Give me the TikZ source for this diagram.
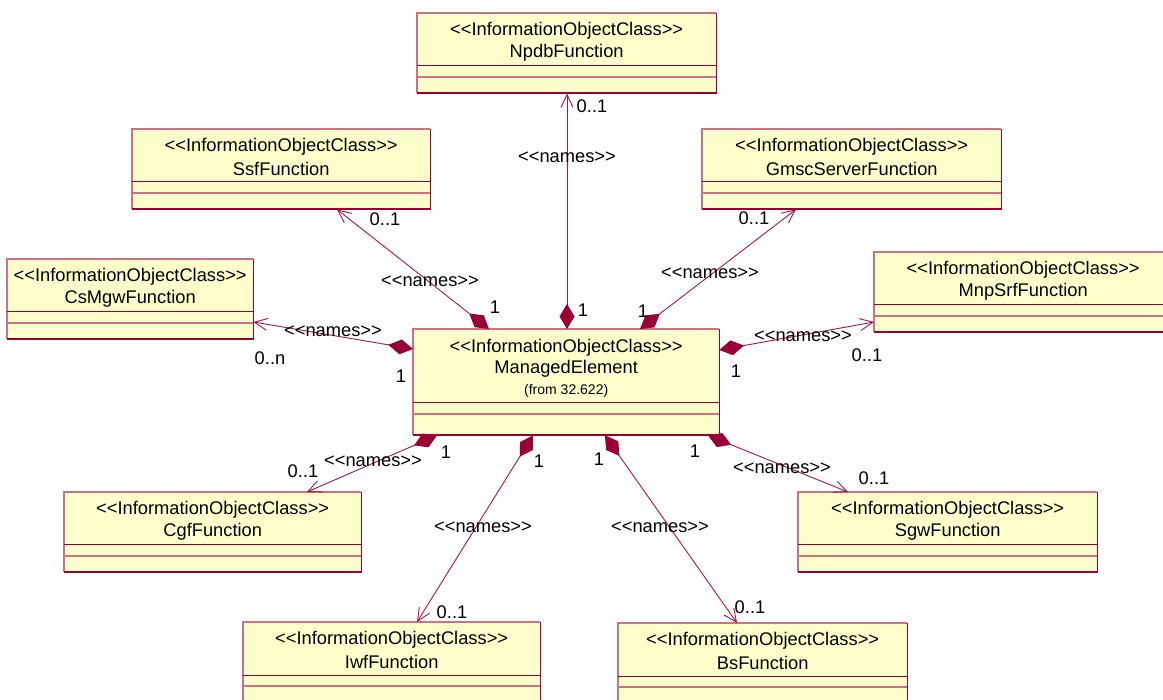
\documentclass[tikz,border=0pt]{standalone}
\usepackage{fontspec}
\newfontfamily\uml{Liberation Sans}
\usetikzlibrary{arrows.meta,calc}
\definecolor{boxfill}{RGB}{255,255,204}
\definecolor{dk}{RGB}{153,0,51}
\definecolor{lt}{RGB}{208,112,135}
\definecolor{ln}{RGB}{170,20,72}
\tikzset{
  clsbox/.style={fill=boxfill, draw=none, inner sep=0pt, anchor=north west, minimum height=80pt},
  lb/.style={draw=lt, line width=1.4pt},
  db/.style={draw=dk, line width=1.8pt},
  sepa/.style={draw=dk, line width=1pt},
  sepb/.style={draw=lt, line width=1.6pt},
  assoc/.style={draw=ln, line width=0.9pt, {Diamond[length=25pt,width=15pt,fill=dk,color=dk]}-{Straight Barb[length=13pt,width=12pt]}},
  txt/.style={inner sep=0pt, text=black},
  lbl/.style={inner sep=0pt, text=black},
}
\newcommand\umlclass[5]{%
  \node[clsbox, minimum width={#4-#2}] (#1) at (#2,#3) {};
  \node[txt] (#1-st) at ($(#1.north)+(0,18)$) {<<InformationObjectClass>>};
  \node[txt] (#1-nm) at ($(#1.north)+(0,40)$) {#5};
  \draw[lb] (#1.south west) -- (#1.north west) -- (#1.north east);
  \draw[db] (#1.north east) -- (#1.south east) -- (#1.south west);
  \draw[sepa] ($(#1.north west)+(0,53)$) -- ($(#1.north east)+(0,53)$);
  \draw[sepb] ($(#1.north west)+(0,64)$) -- ($(#1.north east)+(0,64)$);
}
\begin{document}
\begin{tikzpicture}[x=1pt,y=-1pt,font=\uml\fontsize{18.3}{21}\selectfont]
\fill[white] (0,0) rectangle (1163,700);
\useasboundingbox (0,0) rectangle (1163,700);

\umlclass{npdb}{417}{13}{716}{NpdbFunction}
\umlclass{ssf}{132}{129}{430}{SsfFunction}
\umlclass{gmsc}{702}{129}{1001}{GmscServerFunction}
\umlclass{csmgw}{7}{259}{253}{CsMgwFunction}
\umlclass{mnp}{874}{252}{1172}{MnpSrfFunction}
\umlclass{cgf}{64}{492}{361}{CgfFunction}
\umlclass{sgw}{798}{492}{1097}{SgwFunction}
\umlclass{iwf}{243}{622}{540}{IwfFunction}
\umlclass{bs}{618}{623}{907}{BsFunction}

% ManagedElement
\node[clsbox, minimum width=306, minimum height=106pt] (me) at (413,329) {};
\node[txt] (me-st) at ($(me.north)+(0,19)$) {<<InformationObjectClass>>};
\node[txt] (me-nm) at ($(me.north)+(0,40)$) {ManagedElement};
\node[txt, font=\uml\fontsize{14}{16}\selectfont] (me-fr) at ($(me.north)+(0,62)$) {(from 32.622)};
\draw[lb] (me.south west) -- (me.north west) -- (me.north east);
\draw[db] (me.north east) -- (me.south east) -- (me.south west);
\draw[sepa] ($(me.north west)+(0,74)$) -- ($(me.north east)+(0,74)$);
\draw[sepb] ($(me.north west)+(0,85)$) -- ($(me.north east)+(0,85)$);

% connector end points
\coordinate (me-npdb) at ($(me.north west)+(154,0)$);
\coordinate (me-ssf) at ($(me.north west)+(76,0)$);
\coordinate (me-gmsc) at ($(me.north west)+(227,0)$);
\coordinate (me-cs) at ($(me.north west)+(0,20)$);
\coordinate (me-mnp) at ($(me.north east)+(0,21)$);
\coordinate (me-cgf) at ($(me.south west)+(24,0)$);
\coordinate (me-iwf) at ($(me.south west)+(120,0)$);
\coordinate (me-bs) at ($(me.south west)+(192,0)$);
\coordinate (me-sgw) at ($(me.south west)+(295,0)$);

\coordinate (npdb-e) at ($(npdb.south west)+(150,0)$);
\coordinate (ssf-e) at ($(ssf.south west)+(205,0)$);
\coordinate (gmsc-e) at ($(gmsc.south west)+(94,0)$);
\coordinate (cs-e) at ($(csmgw.north east)+(0,63)$);
\coordinate (mnp-e) at ($(mnp.north west)+(0,70)$);
\coordinate (cgf-e) at ($(cgf.north west)+(243,0)$);
\coordinate (iwf-e) at ($(iwf.north west)+(174,0)$);
\coordinate (bs-e) at ($(bs.north west)+(119,0)$);
\coordinate (sgw-e) at ($(sgw.north west)+(50,0)$);

\draw[assoc] (me-npdb) -- (npdb-e);
\draw[assoc] (me-ssf) -- (ssf-e);
\draw[assoc] (me-gmsc) -- (gmsc-e);
\draw[assoc] (me-cs) -- (cs-e);
\draw[assoc] (me-mnp) -- (mnp-e);
\draw[assoc] (me-cgf) -- (cgf-e);
\draw[assoc] (me-iwf) -- (iwf-e);
\draw[assoc] (me-bs) -- (bs-e);
\draw[assoc] (me-sgw) -- (sgw-e);

% labels
\node[lbl] (l-npdb-n) at (567,157) {<<names>>};
\node[lbl] (l-npdb-m) at (592,106) {0..1};
\node[lbl] (l-npdb-o) at (583,310) {1};

\node[lbl] (l-ssf-n) at (430,281) {<<names>>};
\node[lbl] (l-ssf-m) at (385,219) {0..1};
\node[lbl] (l-ssf-o) at (495,307) {1};

\node[lbl] (l-gmsc-n) at (710,273) {<<names>>};
\node[lbl] (l-gmsc-m) at (754,218) {0..1};
\node[lbl] (l-gmsc-o) at (643,311) {1};

\node[lbl] (l-cs-n) at (333,331) {<<names>>};
\node[lbl] (l-cs-m) at (270,358) {0..n};
\node[lbl] (l-cs-o) at (401,376) {1};

\node[lbl] (l-mnp-n) at (803,336) {<<names>>};
\node[lbl] (l-mnp-m) at (867,355) {0..1};
\node[lbl] (l-mnp-o) at (736,371) {1};

\node[lbl] (l-cgf-n) at (373,461) {<<names>>};
\node[lbl] (l-cgf-m) at (303,471) {0..1};
\node[lbl] (l-cgf-o) at (446,452) {1};

\node[lbl] (l-iwf-n) at (483,527) {<<names>>};
\node[lbl] (l-iwf-m) at (452,612) {0..1};
\node[lbl] (l-iwf-o) at (539,461) {1};

\node[lbl] (l-bs-n) at (660,527) {<<names>>};
\node[lbl] (l-bs-m) at (750,607) {0..1};
\node[lbl] (l-bs-o) at (599,459) {1};

\node[lbl] (l-sgw-n) at (782,468) {<<names>>};
\node[lbl] (l-sgw-m) at (874,478) {0..1};
\node[lbl] (l-sgw-o) at (695,451) {1};
\end{tikzpicture}
\end{document}
